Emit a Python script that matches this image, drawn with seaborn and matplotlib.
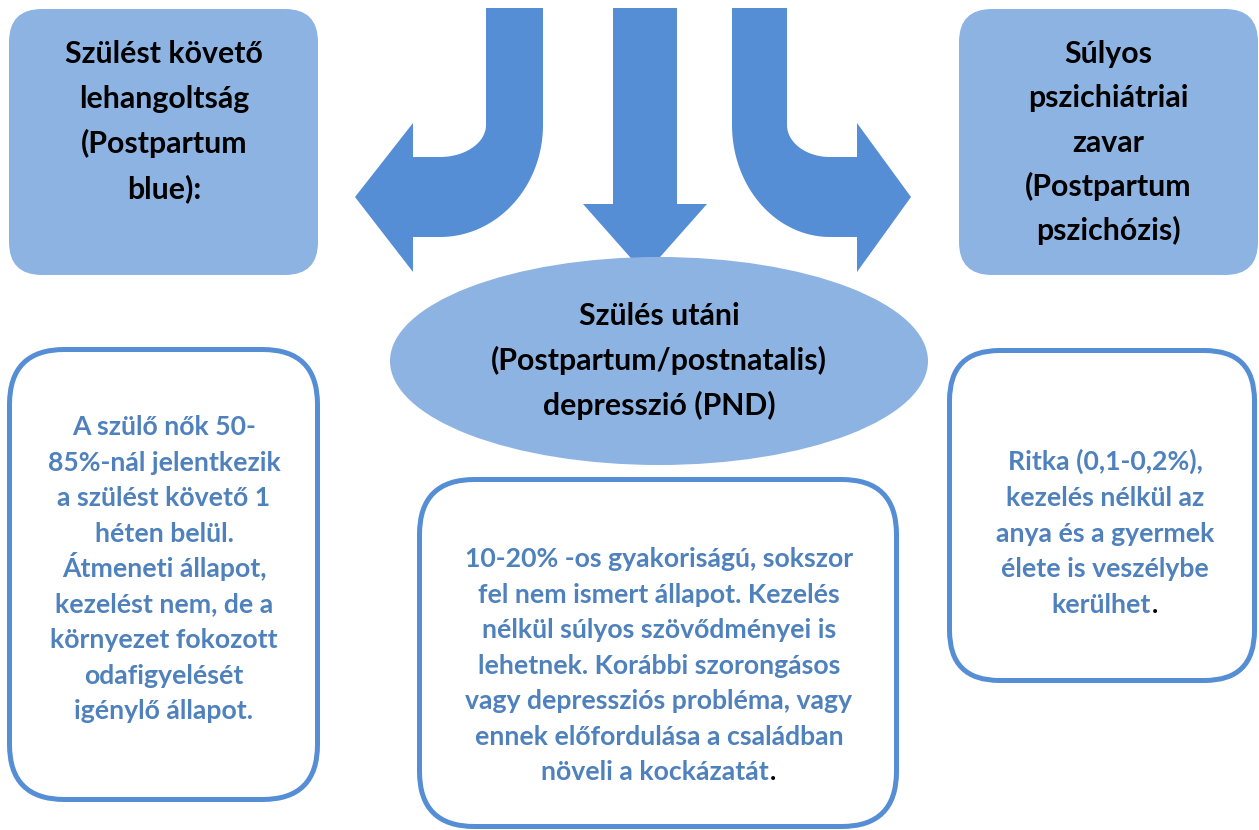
import numpy as np
import matplotlib
matplotlib.use("Agg")
import matplotlib.pyplot as plt
from matplotlib.patches import FancyBboxPatch, Ellipse, Polygon
import seaborn as sns

# ---------------- content (text of the diagram) ----------------
top_left_title = ["Szülést követő", "lehangoltság", "(Postpartum", "blue):"]
top_right_title = ["Súlyos", "pszichiátriai", "zavar", "(Postpartum", "pszichózis)"]
center_title = ["Szülés utáni", "(Postpartum/postnatalis)", "depresszió (PND)"]
left_desc = ["A szülő nők 50-", "85%-nál jelentkezik", "a szülést követő 1",
             "héten belül.", "Átmeneti állapot,", "kezelést nem, de a",
             "környezet fokozott", "odafigyelését", "igénylő állapot."]
center_desc = ["10-20% -os gyakoriságú, sokszor", "fel nem ismert állapot. Kezelés",
               "nélkül súlyos szövődményei is", "lehetnek. Korábbi szorongásos",
               "vagy depressziós probléma, vagy", "ennek előfordulása a családban",
               "növeli a kockázatát"]
right_desc = ["Ritka (0,1-0,2%),", "kezelés nélkül az", "anya és a gyermek",
              "élete is veszélybe", "kerülhet"]
end_mark = "."

# ---------------- style ----------------
sns.set_theme(style="white")
plt.rcParams['font.family'] = ['Lato', 'DejaVu Sans']
FILL = "#8DB3E2"
ARROW = "#558ED5"
EDGE = "#558ED5"
BLUE_TXT = "#4F81BD"

W, H = 1259, 830
fig = plt.figure(figsize=(W / 100, H / 100), dpi=100)
ax = fig.add_axes([0, 0, 1, 1])
ax.set_xlim(0, W)
ax.set_ylim(H, 0)
ax.axis("off")
fig.patch.set_facecolor("white")


def rbox(x0, y0, x1, y1, r, filled, lw=0):
    p = FancyBboxPatch((x0, y0), x1 - x0, y1 - y0,
                       boxstyle=f"round,pad=0,rounding_size={r}",
                       facecolor=FILL if filled else "white",
                       edgecolor=EDGE if not filled else "none",
                       linewidth=lw, zorder=2)
    ax.add_patch(p)


def bent_arrow(xo, xi, cx, cy, rxo, ryo, rxi, ryi, head_x, tip_x, tip_y,
               head_top, head_bot, top_y):
    t = np.linspace(0, np.pi / 2, 40)
    outer = np.column_stack([cx + np.sign(xo - cx) * rxo * np.cos(t),
                             cy + ryo * np.sin(t)])
    inner = np.column_stack([cx + np.sign(xi - cx) * rxi * np.cos(t[::-1]),
                             cy + ryi * np.sin(t[::-1])])
    pts = [(xi, top_y), (xo, top_y), (xo, cy)]
    pts += list(map(tuple, outer))
    pts += [(head_x, cy + ryo), (head_x, head_bot), (tip_x, tip_y),
            (head_x, head_top), (head_x, cy + ryi)]
    pts += list(map(tuple, inner))
    pts += [(xi, cy)]
    ax.add_patch(Polygon(pts, closed=True, facecolor=ARROW, edgecolor="none",
                         zorder=1))


# arrows
bent_arrow(543, 486, 440, 125, 103, 112, 46, 32, 413, 355, 197, 123, 272, 8)
bent_arrow(732, 787, 830, 125, 98, 112, 43, 32, 857, 911, 197, 123, 272, 8)
ax.add_patch(Polygon([(613, 8), (677, 8), (677, 204), (707, 204), (645, 274),
                      (583, 204), (613, 204)], closed=True, facecolor=ARROW,
                     edgecolor="none", zorder=1))

# filled boxes and ellipse
rbox(9, 9, 318, 275, 33, True)
rbox(959, 9, 1258, 275, 33, True)
ax.add_patch(Ellipse((659, 361), 538, 208, facecolor=FILL, edgecolor="none",
                     zorder=3))

# outlined boxes
rbox(9.5, 349.5, 317.5, 799.5, 55, False, lw=3.6)
rbox(419.5, 479.5, 896.5, 826.5, 55, False, lw=3.6)
rbox(949.5, 350.5, 1254.5, 680.5, 50, False, lw=3.6)

# font sizes fitted to measured line widths
fig.canvas.draw()
renderer = fig.canvas.get_renderer()


def fit_size(s, target_px):
    t = ax.text(0, 0, s, fontsize=20, fontweight="bold")
    w = t.get_window_extent(renderer=renderer).width
    t.remove()
    return 20 * target_px / w


fs_title = fit_size(center_title[1], 335)
fs_desc = fit_size(center_desc[0], 388)


def block(lines, x, y0, dy, fs, color, black_period=False):
    for i, s in enumerate(lines):
        xs = x - (4 if (black_period and i == len(lines) - 1) else 0)
        t = ax.text(xs, y0 + i * dy, s, ha="center", va="baseline",
                    fontsize=fs, fontweight="bold", color=color, zorder=5)
        if black_period and i == len(lines) - 1:
            ax.annotate(end_mark, xy=(1, 0), xycoords=t, xytext=(1, 0),
                        textcoords="offset pixels", ha="left", va="bottom",
                        fontsize=fs, fontweight="bold", color="black", zorder=6)


block(top_left_title, 164, 63, 45, fs_title, "black")
block(top_right_title, 1108, 63, 44.25, fs_title, "black")
block(center_title, 659, 325, 45, fs_title, "black")
block(left_desc, 164, 435, 35.5, fs_desc, BLUE_TXT)
block(center_desc, 659, 567, 35.5, fs_desc, BLUE_TXT, black_period=True)
block(right_desc, 1105, 470, 35.75, fs_desc, BLUE_TXT, black_period=True)

fig.savefig("out.png", dpi=100, facecolor="white")
